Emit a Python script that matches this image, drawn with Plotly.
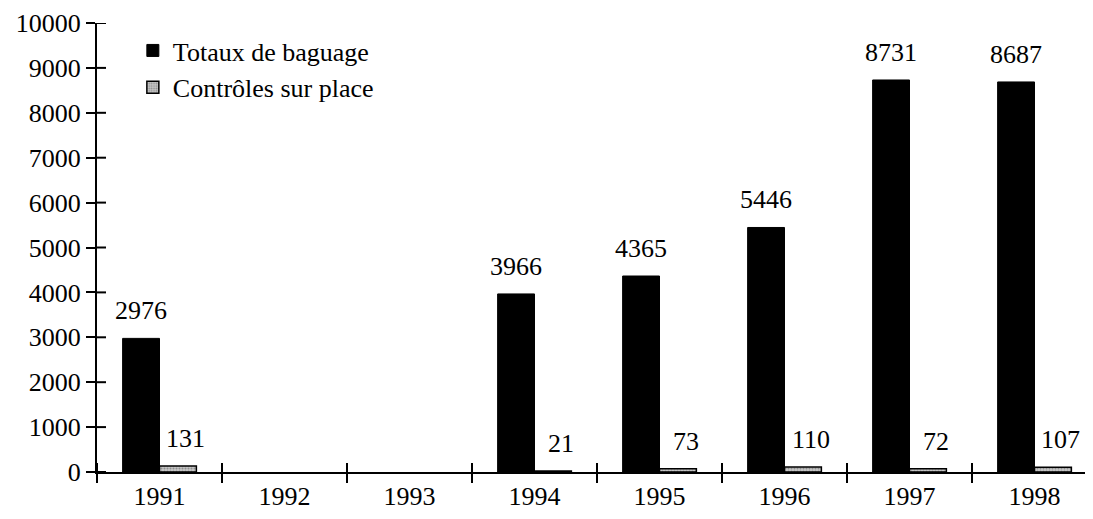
import plotly.graph_objects as go

years = ["1991", "1992", "1993", "1994", "1995", "1996", "1997", "1998"]
totaux = [2976, None, None, 3966, 4365, 5446, 8731, 8687]
controles = [131, None, None, 21, 73, 110, 72, 107]
series_names = ["Totaux de baguage", "Contrôles sur place"]
y_ticks = list(range(0, 10001, 1000))

FONT = "Times New Roman"
FS = 26

# page body has an 8px margin: figure is placed at (8, 8) in the window
W, H = 1085, 511
ML, MR, MT, MB = 89, 0, 15, 47
plot_w = W - ML - MR
plot_h = H - MT - MB
TICK = 9

fig = go.Figure()
fig.add_trace(go.Bar(
    x=years, y=totaux, name=series_names[0],
    marker=dict(color="black", line=dict(color="black", width=1)),
))
fig.add_trace(go.Bar(
    x=years, y=controles, name=series_names[1],
    marker=dict(color="#a8a8a8", line=dict(color="black", width=1.5),
                pattern=dict(shape=".", fgcolor="#555555", bgcolor="#c8c8c8", size=3, solidity=0.4)),
))

# value labels (numeric category index as x)
for vals, dx, dy in ((totaux, -19, 11), (controles, 26, 11)):
    for i, v in enumerate(vals):
        if v is None:
            continue
        fig.add_annotation(x=i, y=v, xref="x", yref="y", text=str(v), showarrow=False,
                           xshift=dx, yshift=dy, yanchor="bottom", xanchor="center",
                           font=dict(family=FONT, size=FS, color="black"))

cat_w = 125.0
xr = [-0.5, -0.5 + plot_w / cat_w]

# inner halves of the crossing tick marks
shapes = []
for t in y_ticks:
    shapes.append(dict(type="line", xref="paper", yref="y", x0=0, x1=TICK / plot_w,
                       y0=t, y1=t, line=dict(color="black", width=2)))
for i in range(len(years)):
    shapes.append(dict(type="line", xref="x", yref="paper", x0=i - 0.5, x1=i - 0.5,
                       y0=0, y1=TICK / plot_h, line=dict(color="black", width=2)))

fig.update_layout(
    width=W, height=H,
    margin=dict(l=ML, r=MR, t=MT, b=MB, autoexpand=False),
    paper_bgcolor="white", plot_bgcolor="white",
    barmode="group", bargap=0.41, bargroupgap=0,
    font=dict(family=FONT, size=FS, color="black"),
    showlegend=True,
    legend=dict(x=0.036, y=0.991, xanchor="left", yanchor="top",
                bgcolor="rgba(0,0,0,0)", font=dict(family=FONT, size=FS),
                tracegroupgap=0, itemwidth=30),
    shapes=shapes,
    xaxis=dict(type="category", range=xr, showline=True, linecolor="black", linewidth=2,
               ticks="outside", ticklen=TICK, tickwidth=2, tickcolor="black",
               tickson="boundaries", showgrid=False, zeroline=False,
               categoryorder="array", categoryarray=years,
               tickfont=dict(family=FONT, size=FS)),
    yaxis=dict(range=[0, 10000], tickvals=y_ticks, tickformat="d", showline=True,
               linecolor="black", linewidth=2,
               ticks="outside", ticklen=TICK, tickwidth=2, tickcolor="black",
               showgrid=False, zeroline=False, tickfont=dict(family=FONT, size=FS)),
)

fig.write_html("out.html")
